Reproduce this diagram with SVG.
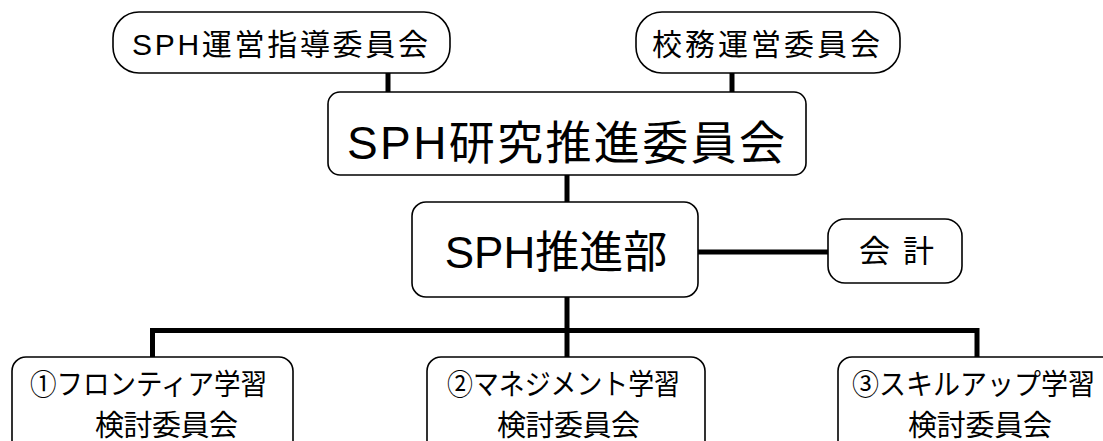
<svg xmlns="http://www.w3.org/2000/svg" width="1103" height="441" viewBox="0 0 1103 441">
<defs>
<style>
.box{fill:#fff;stroke:#000;stroke-width:1.6}
.con{fill:none;stroke:#000;stroke-width:5;stroke-linejoin:miter}
text{font-family:"Liberation Sans","Noto Sans CJK JP",sans-serif;fill:#000}
.t30{font-size:30px}
.t46{font-size:46px}
.t44{font-size:44px}
.t31{font-size:31px}
.t28{font-size:29px}
</style>
</defs>
<rect width="1103" height="441" fill="#fff"/>
<g id="connectors">
<line class="con" x1="388" y1="72" x2="388" y2="93"/>
<line class="con" x1="732" y1="72" x2="732" y2="93"/>
<line class="con" x1="567" y1="175" x2="567" y2="203"/>
<line class="con" x1="698" y1="252" x2="829" y2="252"/>
<line class="con" x1="567" y1="296" x2="567" y2="357"/>
<polyline class="con" points="152.5,357 152.5,330.5 977,330.5 977,357"/>
</g>
<g id="n_sph_unei">
<rect class="box" x="113" y="12" width="337" height="61" rx="26"/>
<text class="t30" x="132" y="55" textLength="296" lengthAdjust="spacing">SPH運営指導委員会</text>
</g>
<g id="n_koumu">
<rect class="box" x="636" y="12" width="264" height="61" rx="26"/>
<text class="t30" x="652" y="55" textLength="228" lengthAdjust="spacing">校務運営委員会</text>
</g>
<g id="n_kenkyu">
<rect class="box" x="328" y="92" width="478" height="83" rx="12"/>
<text class="t46" x="347" y="159" textLength="438" lengthAdjust="spacing">SPH研究推進委員会</text>
</g>
<g id="n_suishinbu">
<rect class="box" x="412" y="202" width="286" height="95" rx="14"/>
<text class="t44" x="556" y="268" text-anchor="middle">SPH推進部</text>
</g>
<g id="n_kaikei">
<rect class="box" x="828" y="219" width="134" height="64" rx="17"/>
<text class="t31" x="859" y="262" textLength="75" lengthAdjust="spacing">会 計</text>
</g>
<g id="n_frontier">
<rect class="box" x="12" y="357" width="281" height="100" rx="14"/>
<text class="t28" x="30" y="395" textLength="237" lengthAdjust="spacingAndGlyphs">①フロンティア学習</text>
<text class="t28" x="95" y="436" textLength="143" lengthAdjust="spacing">検討委員会</text>
</g>
<g id="n_management">
<rect class="box" x="427" y="357" width="278" height="100" rx="14"/>
<text class="t28" x="447" y="395" textLength="233" lengthAdjust="spacingAndGlyphs">②マネジメント学習</text>
<text class="t28" x="497" y="436" textLength="143" lengthAdjust="spacing">検討委員会</text>
</g>
<g id="n_skillup">
<rect class="box" x="838" y="357" width="280" height="100" rx="14"/>
<text class="t28" x="852" y="395" textLength="243" lengthAdjust="spacingAndGlyphs">③スキルアップ学習</text>
<text class="t28" x="908" y="436" textLength="144" lengthAdjust="spacing">検討委員会</text>
</g>
</svg>
